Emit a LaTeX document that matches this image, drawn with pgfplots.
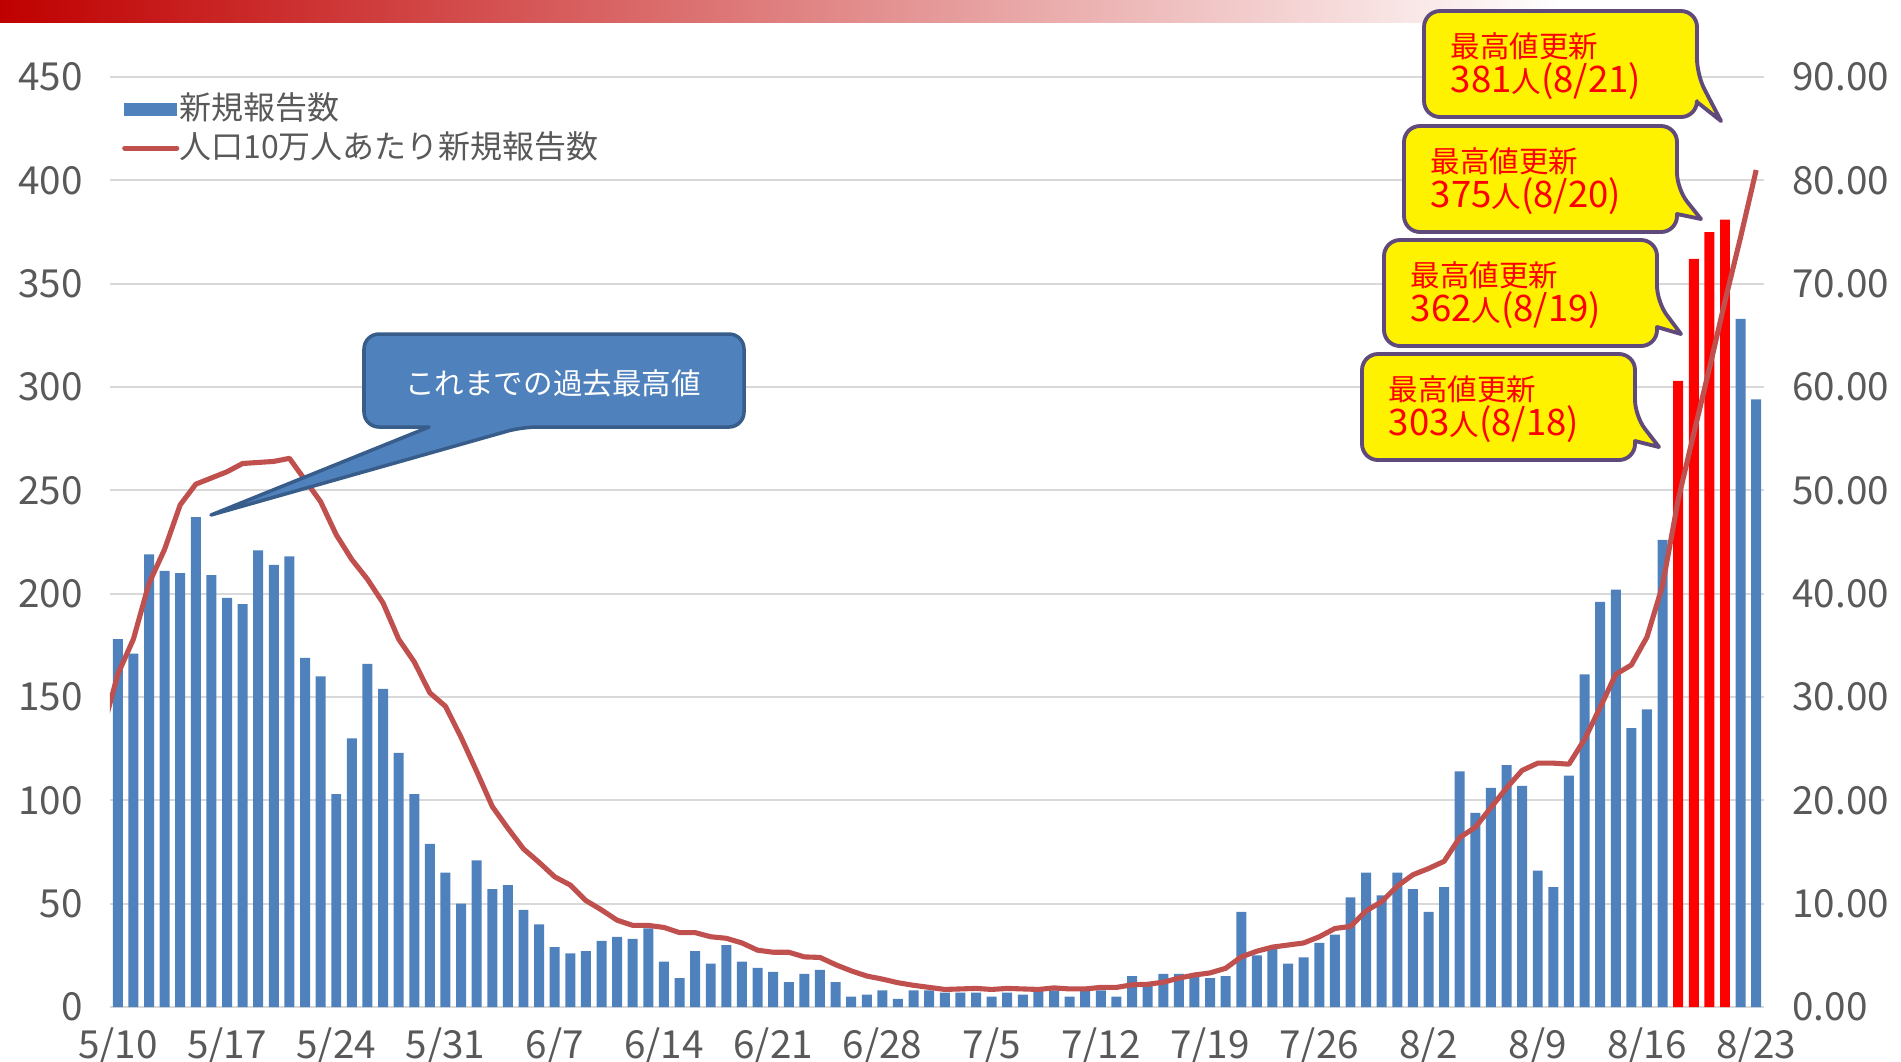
\documentclass[border=0pt]{standalone}
\usepackage{pgfplots}
\pgfplotsset{compat=1.18}
\usepackage{pgfplotstable}
\usepackage{fontspec}
\setmainfont{Noto Sans CJK JP}

\definecolor{barblue}{HTML}{4F81BD}
\definecolor{linered}{HTML}{C0504D}
\definecolor{gridgray}{HTML}{D9D9D9}
\definecolor{ticktext}{HTML}{595959}
\definecolor{boxborder}{HTML}{604A7B}
\definecolor{calloutedge}{HTML}{385D8A}
\definecolor{topred}{HTML}{C00000}

\pgfplotsset{/pgf/number format/assume math mode=true}

% daily new reports, index 0 = 5/10
\pgfplotstableread{
idx cases
0 178
1 171
2 219
3 211
4 210
5 237
6 209
7 198
8 195
9 221
10 214
11 218
12 169
13 160
14 103
15 130
16 166
17 154
18 123
19 103
20 79
21 65
22 50
23 71
24 57
25 59
26 47
27 40
28 29
29 26
30 27
31 32
32 34
33 33
34 38
35 22
36 14
37 27
38 21
39 30
40 22
41 19
42 17
43 12
44 16
45 18
46 12
47 5
48 6
49 8
50 4
51 8
52 8
53 7
54 7
55 7
56 5
57 7
58 6
59 8
60 8
61 5
62 8
63 8
64 5
65 15
66 12
67 16
68 16
69 15
70 14
71 15
72 46
73 25
74 28
75 21
76 24
77 31
78 35
79 53
80 65
81 54
82 65
83 57
84 46
85 58
86 114
87 94
88 106
89 117
90 107
91 66
92 58
93 112
94 161
95 196
96 202
97 135
98 144
99 226
104 333
105 294
}\cases

% record days 8/18 - 8/21
\pgfplotstableread{
idx cases
100 303
101 362
102 375
103 381
}\records

% per 100k population
\pgfplotstableread{
idx rate
-1 26.6
0 32.2
1 35.6
2 41.0
3 44.3
4 48.6
5 50.6
6 51.2
7 51.8
8 52.6
9 52.7
10 52.8
11 53.1
12 51.0
13 48.9
14 45.7
15 43.3
16 41.4
17 39.1
18 35.6
19 33.4
20 30.4
21 29.1
22 26.1
23 22.8
24 19.4
25 17.3
26 15.3
27 14.0
28 12.6
29 11.8
30 10.3
31 9.4
32 8.4
33 7.9
34 7.9
35 7.7
36 7.2
37 7.2
38 6.8
39 6.65
40 6.2
41 5.5
42 5.3
43 5.3
44 4.85
45 4.8
46 4.1
47 3.5
48 3.0
49 2.7
50 2.35
51 2.1
52 1.9
53 1.7
54 1.75
55 1.8
56 1.7
57 1.8
58 1.75
59 1.7
60 1.85
61 1.75
62 1.75
63 1.9
64 1.9
65 2.15
66 2.2
67 2.4
68 2.8
69 3.1
70 3.3
71 3.75
72 4.85
73 5.4
74 5.8
75 6.0
76 6.2
77 6.8
78 7.6
79 7.8
80 9.3
81 10.2
82 11.7
83 12.8
84 13.4
85 14.1
86 16.4
87 17.4
88 19.3
89 21.2
90 22.9
91 23.6
92 23.6
93 23.5
94 25.9
95 29.0
96 32.2
97 33.1
98 35.8
99 40.8
100 49.1
101 55.5
102 61.8
103 68.3
104 74.5
105 81.0
}\rate

\newcommand{\tickfont}{\fontsize{11}{12}\selectfont}
\newcommand{\boxfont}{\fontsize{8.4}{10}\selectfont}
\newcommand{\boxdigits}{\fontsize{10.4}{10}\selectfont}

% yellow record callout: left, top, tail top, tail bottom, tip y, count, date
\newcommand{\recordbox}[7]{%
  \begin{scope}[shift={(#1,#2)}]
    \draw[fill=yellow, draw=boxborder, line width=1.1pt, line join=round, rounded corners=1.6mm]
      (0,53) -- (0,0) -- (273,0) -- (273,#3) [sharp corners] -- (297,#5) -- (273,#4)
      [rounded corners=1.6mm] -- (273,106) -- (0,106) -- cycle;
    \node[anchor=base west, inner sep=0pt, text=red, font=\boxfont] at (26,46) {最高値更新};
    \node[anchor=base west, inner sep=0pt, text=red, font=\boxfont] at (26,81)
      {{\boxdigits #6}人{\boxdigits (#7)}};
  \end{scope}}

\begin{document}
\begin{tikzpicture}
\path[use as bounding box] (0,0) rectangle (190.1mm,-106.1mm);

\begin{scope}[x=0.1mm, y=-0.1mm]
  \shade[left color=topred, right color=white] (0,0) rectangle (1560,22);
\end{scope}

\begin{axis}[
  at={(11mm,-100.7mm)}, anchor=south west,
  width=165.4mm, height=93mm, scale only axis,
  xmin=-0.5, xmax=105.5, ymin=0, ymax=450,
  ybar, bar width=0.64, bar shift=0pt,
  axis x line*=bottom, axis y line*=left,
  y axis line style={draw=none},
  x axis line style={draw=gridgray, line width=0.6pt},
  major tick length=0pt,
  ytick={0,50,...,450},
  xtick={0,7,...,105},
  xticklabels={5/10,5/17,5/24,5/31,6/7,6/14,6/21,6/28,7/5,7/12,7/19,7/26,8/2,8/9,8/16,8/23},
  ymajorgrids, grid style={draw=gridgray, line width=0.55pt},
  tick label style={text=ticktext, font=\tickfont},
  yticklabel style={xshift=-1.5mm},
  xticklabel style={yshift=-0.8mm},
  legend style={
    draw=none, fill=none,
    at={(0,1)}, anchor=north west, xshift=1.15mm, yshift=-1.55mm,
    font=\fontsize{9.1}{10}\selectfont, text=ticktext,
    inner sep=0pt, row sep=2.1pt,
    nodes={inner sep=0pt, text height=7.6pt, text depth=1.4pt},
    /tikz/every even column/.append style={column sep=0.7mm},
  },
  legend cell align=left,
]
\addplot[fill=barblue, draw=none,
  legend image code/.code={\fill[barblue] (0mm,-0.65mm) rectangle (5.3mm,0.65mm);}]
  table[x=idx, y=cases] {\cases};
\addlegendentry{新規報告数}
\addplot[fill=red, draw=none, forget plot] table[x=idx, y=cases] {\records};
\addlegendimage{linered,
  legend image code/.code={\draw[linered, line width=1.45pt, line cap=round] (0.1mm,0mm) -- (5.3mm,0mm);}}
\addlegendentry{人口10万人あたり新規報告数}
\end{axis}

\begin{axis}[
  at={(11mm,-100.7mm)}, anchor=south west,
  width=165.4mm, height=93mm, scale only axis,
  xmin=-0.5, xmax=105.5, ymin=0, ymax=90,
  axis x line=none, axis y line*=right,
  y axis line style={draw=none},
  major tick length=0pt,
  ytick={0,10,...,90},
  tick label style={text=ticktext, font=\tickfont},
  yticklabel style={xshift=1.6mm, /pgf/number format/fixed,
    /pgf/number format/fixed zerofill, /pgf/number format/precision=2},
]
\addplot[linered, line width=1.45pt, line join=round] table[x=idx, y=rate] {\rate};
\end{axis}

\begin{scope}[x=0.1mm, y=-0.1mm]
  % callout on the earlier peak
  \draw[fill=barblue, draw=calloutedge, line width=1pt, line join=round, rounded corners=1.5mm]
    (364,380) -- (364,334) -- (744,334) -- (744,427) -- (522,427) [sharp corners] -- (211,515)
    -- (429,427) [rounded corners=1.5mm] -- (364,427) -- cycle;
  \node[text=white, font=\boxfont, inner sep=0pt] at (553,383) {これまでの過去最高値};

  \recordbox{1424}{11}{64}{91}{110}{381}{8/21}
  \recordbox{1404}{126}{63}{88}{93}{375}{8/20}
  \recordbox{1384}{240}{62}{87}{94}{362}{8/19}
  \recordbox{1362}{354}{62}{87}{93}{303}{8/18}
\end{scope}
\end{tikzpicture}
\end{document}
